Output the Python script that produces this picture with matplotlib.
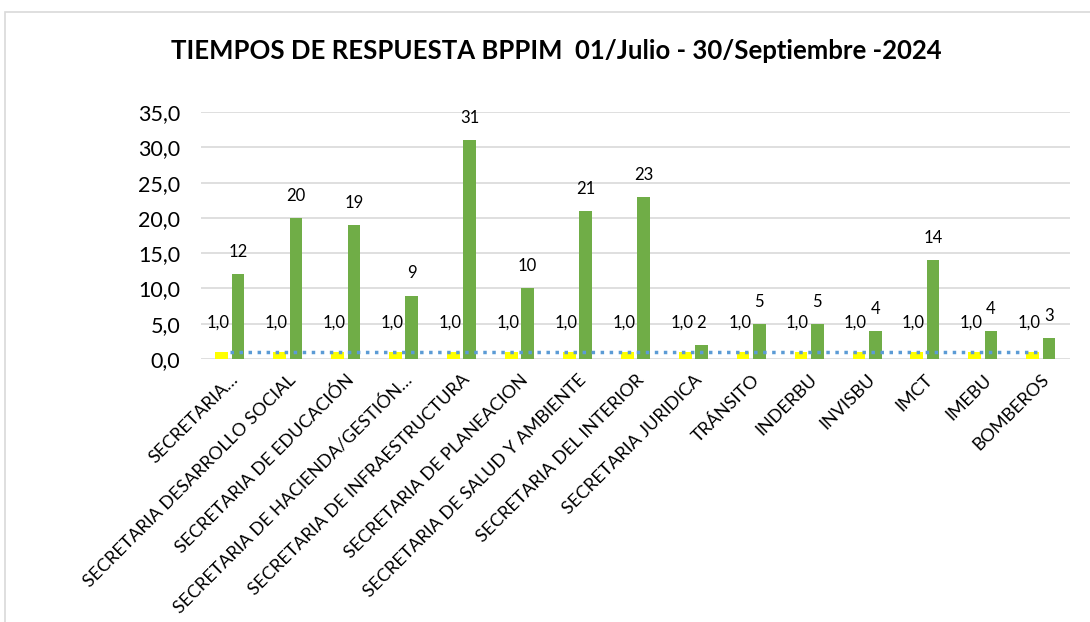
import matplotlib.pyplot as plt
import numpy as np
from matplotlib.patches import Rectangle

plt.rcParams['font.family'] = ['Lato', 'DejaVu Sans']

# datos
categorias = ['SECRETARIA…', 'SECRETARIA DESARROLLO SOCIAL', 'SECRETARIA DE EDUCACIÓN',
              'SECRETARIA DE HACIENDA/GESTIÓN…', 'SECRETARIA DE INFRAESTRUCTURA',
              'SECRETARIA DE PLANEACION', 'SECRETARIA DE SALUD Y AMBIENTE',
              'SECRETARIA DEL INTERIOR', 'SECRETARIA JURIDICA', 'TRÁNSITO', 'INDERBU',
              'INVISBU', 'IMCT', 'IMEBU', 'BOMBEROS']
meta = [1, 1, 1, 1, 1, 1, 1, 1, 1, 1, 1, 1, 1, 1, 1]
tiempos = [12, 20, 19, 9, 31, 10, 21, 23, 2, 5, 5, 4, 14, 4, 3]
limite = [1, 1, 1, 1, 1, 1, 1, 1, 1, 1, 1, 1, 1, 1, 1]
yticks = [0, 5, 10, 15, 20, 25, 30, 35]

fig = plt.figure(figsize=(10.9, 6.22), dpi=100)
ax = fig.add_axes([0.1844, 0.4228, 0.797, 0.397])

x = np.arange(len(categorias))
w = 0.22
ax.bar(x - 0.14, meta, w, color='#FFFF00', zorder=3)
ax.bar(x + 0.14, tiempos, w, color='#70AD47', zorder=3)
ax.plot(x, limite, color='#5B9BD5', linestyle=(0, (1, 1.6)), linewidth=2.5, zorder=4)

for i in range(len(x)):
    ax.text(x[i] - 0.2, meta[i] + 3.0, ('%.1f' % meta[i]).replace('.', ','),
            ha='center', va='bottom', fontsize=12)
    ax.text(x[i] + 0.14, tiempos[i] + 2.0, str(tiempos[i]), ha='center', va='bottom',
            fontsize=12)

ax.set_xlim(-0.5, len(x) - 0.5)
ax.set_ylim(0, 35)
ax.set_yticks(yticks)
ax.set_yticklabels([('%.1f' % v).replace('.', ',') for v in yticks], fontsize=15.5)
ax.set_xticks(x)
ax.set_xticklabels(categorias, rotation=45, ha='right', rotation_mode='anchor', fontsize=13)
ax.tick_params(axis='y', length=0, pad=15)
ax.tick_params(axis='x', length=0, pad=9)
ax.grid(axis='y', color='#D9D9D9', linewidth=1.2, zorder=0)
for s in ax.spines.values():
    s.set_visible(False)

fig.text(0.51, 0.918, 'TIEMPOS DE RESPUESTA BPPIM  01/Julio - 30/Septiembre -2024',
         ha='center', va='center', fontsize=18.5, fontweight='bold')

fig.patches.append(Rectangle((5 / 1090, -0.1), 1.2, 1 - 12 / 622 + 0.1, transform=fig.transFigure,
                             fill=False, edgecolor='#D9D9D9', linewidth=1.2))

plt.savefig('out.png', dpi=100)
